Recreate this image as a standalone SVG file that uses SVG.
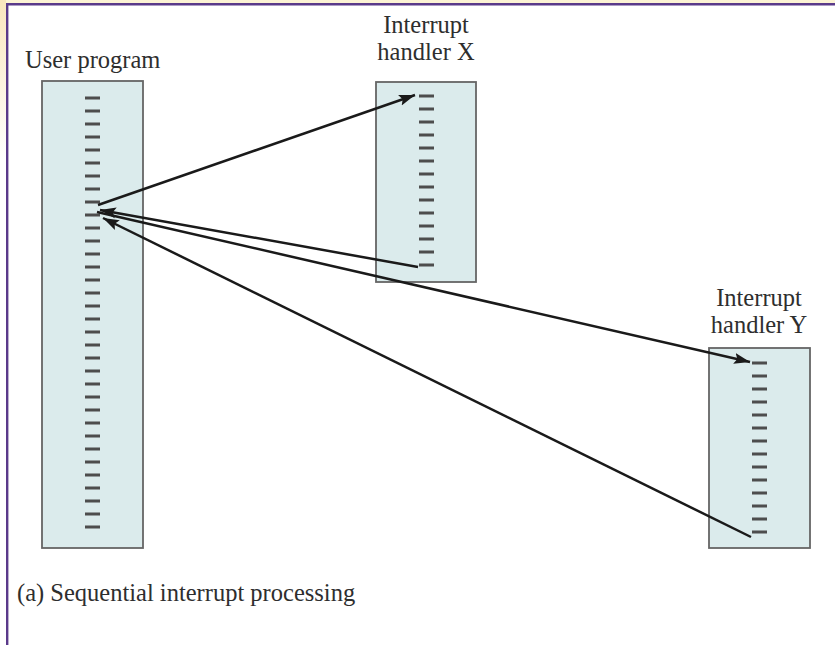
<svg xmlns="http://www.w3.org/2000/svg" width="835" height="645" viewBox="0 0 835 645">
  <style>
    .box { fill: #dbebec; stroke: #656565; stroke-width: 1.8; }
    .dash { stroke: #4d4d4d; stroke-width: 2.8; fill: none; }
    .lbl { font-family: "Liberation Serif", "Times New Roman", serif; font-size: 24.5px; fill: #2e2e2e; }
    .conn { stroke: #1a1a1a; stroke-width: 2.5; fill: none; }
  </style>
  <defs>
    <marker id="ah" markerUnits="userSpaceOnUse" markerWidth="18" markerHeight="12" refX="16" refY="6" orient="auto">
      <path d="M0,0.5 L16,6 L0,11.5 L3,6 Z" fill="#1a1a1a"/>
    </marker>
    <linearGradient id="lg" x1="0" y1="0" x2="0" y2="1">
      <stop offset="0" stop-color="#f9e6bd"/>
      <stop offset="1" stop-color="#ffffff"/>
    </linearGradient>
  </defs>
  <rect width="835" height="645" fill="#ffffff"/>
  <!-- frame -->
  <rect x="0" y="0" width="835" height="3.2" fill="#fcf3d4"/>
  <rect x="0" y="0" width="6" height="160" fill="url(#lg)"/>
  <line x1="6" y1="4.3" x2="835" y2="4.3" stroke="#5a3a8a" stroke-width="2.4"/>
  <line x1="7.2" y1="3.2" x2="7.2" y2="645" stroke="#5a3a8a" stroke-width="2.4"/>

  <g id="user-program">
    <text class="lbl" x="25" y="68">User program</text>
    <rect class="box" x="42" y="81" width="101" height="467"/>
    <path class="dash" d="M85,98h15M85,111h15M85,124h15M85,137h15M85,150h15M85,163h15M85,176h15M85,189h15M85,202h15M85,215h15M85,228h15M85,241h15M85,254h15M85,267h15M85,280h15M85,293h15M85,306h15M85,319h15M85,332h15M85,345h15M85,358h15M85,371h15M85,384h15M85,397h15M85,410h15M85,423h15M85,436h15M85,449h15M85,462h15M85,475h15M85,488h15M85,501h15M85,514h15M85,527h15"/>
  </g>

  <g id="handler-x">
    <text class="lbl" x="426" y="33" text-anchor="middle">Interrupt</text>
    <text class="lbl" x="426" y="60" text-anchor="middle">handler X</text>
    <rect class="box" x="376" y="82" width="100" height="200"/>
    <path class="dash" d="M419,96h15M419,109h15M419,122h15M419,135h15M419,148h15M419,161h15M419,174h15M419,187h15M419,200h15M419,213h15M419,226h15M419,239h15M419,252h15M419,265h15"/>
  </g>

  <g id="handler-y">
    <text class="lbl" x="759" y="306" text-anchor="middle">Interrupt</text>
    <text class="lbl" x="759" y="333" text-anchor="middle">handler Y</text>
    <rect class="box" x="709" y="348" width="101" height="200"/>
    <path class="dash" d="M752,363h15M752,376h15M752,389h15M752,402h15M752,415h15M752,428h15M752,441h15M752,454h15M752,467h15M752,480h15M752,493h15M752,506h15M752,519h15M752,532h15"/>
  </g>

  <g id="connectors">
    <line class="conn" x1="98" y1="205" x2="415" y2="95" marker-end="url(#ah)"/>
    <line class="conn" x1="418" y1="267" x2="100" y2="210" marker-end="url(#ah)"/>
    <line class="conn" x1="97" y1="212" x2="750" y2="362" marker-end="url(#ah)"/>
    <line class="conn" x1="751" y1="537" x2="103" y2="218" marker-end="url(#ah)"/>
  </g>

  <g id="caption">
    <text class="lbl" x="17" y="601">(a) Sequential interrupt processing</text>
  </g>
</svg>
